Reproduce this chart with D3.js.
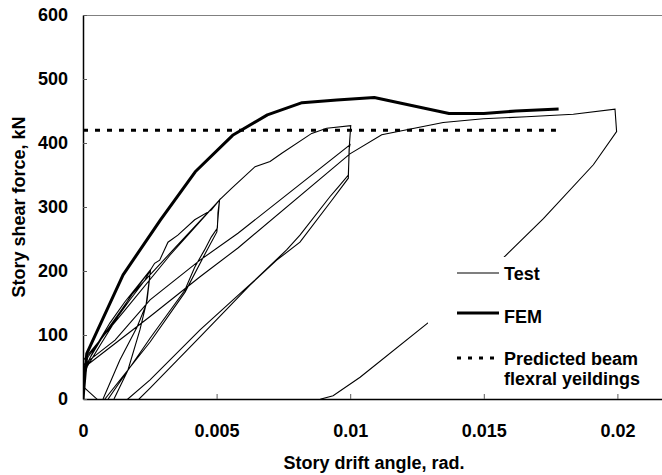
<!DOCTYPE html>
<html lang="en">
<meta charset="utf-8">

<head>
	<title>Story shear force vs drift angle</title>
</head>

<style type="text/css">

	body {
		margin: 0;
		background: white;
	}

	.tickLabel text, .axisTitle, .legendText {
		font-family: 'Liberation Sans', Arial, sans-serif;
		font-weight: 700;
		font-size: 18px;
		fill: black;
	}

	.testLine {
		fill: none;
		stroke: black;
		stroke-width: 1.1;
	}

	.femLine {
		fill: none;
		stroke: black;
		stroke-width: 3;
		stroke-linejoin: round;
	}

	.predLine {
		fill: none;
		stroke: black;
		stroke-width: 3;
		stroke-dasharray: 5,7;
	}

	.topBorder {
		stroke: rgb(128,128,128);
		stroke-width: 1;
	}

</style>

<script src="https://d3js.org/d3.v7.min.js"></script>

<body>
	<script type="text/javascript">

		// test hysteresis (drift angle in rad, shear in kN)
		var testDrift = [-0.00015, 0.00052, 0.00067, 0, 0,
			0.00002, 0.00007, 0.00045, 0.00101, 0.00157, 0.00213, 0.00253,
			0.00240, 0.00213, 0.00168, 0.00116, 0.00064, -0.0025, -0.0012, 0,
			0.00026, 0.00082, 0.00138, 0.00195, 0.00253,
			0.00236, 0.00202, 0.00138, 0.00075, -0.0026, -0.0012, 0,
			0.00019, 0.00101, 0.00176, 0.00232, 0.00253, 0.00268, 0.00287, 0.00318, 0.00355, 0.00418, 0.00480, 0.00511,
			0.00505, 0.00503, 0.00480, 0.00455, 0.00418, 0.00381, 0.00251, 0.00094, -0.005, -0.002, 0,
			0.00064, 0.0018, 0.00344, 0.00511,
			0.00501, 0.00457, 0.00382, 0.00251, 0.00082, -0.0052, -0.0022, 0,
			0.00157, 0.00326, 0.00511, 0.00556, 0.00644, 0.00700, 0.00744, 0.00856, 0.00912, 0.01002,
			0.00997, 0.00993, 0.00955, 0.00924, 0.00812, 0.00762, 0.00644, 0.00438, 0.00251, 0.00168, -0.01, -0.004, 0,
			0.0012, 0.00251, 0.00438, 0.00580, 0.00999,
			0.00996, 0.00993, 0.00932, 0.00812, 0.00725, 0.00625, 0.00438, 0.00251, 0.00210, -0.0102, -0.004, 0,
			0.00251, 0.00438, 0.00580, 0.00999, 0.01118, 0.01348, 0.01498, 0.01660, 0.01835, 0.01991,
			0.01997, 0.01910, 0.01723, 0.01572, 0.01291, 0.01037, 0.00936, 0.00891, 0.0081];
		var testShear = [25, 0, -9, -9, 0,
			22, 48, 80, 119, 152, 181, 202,
			155, 108, 45, 0, -41, -200, -50, 30,
			64, 103, 136, 170, 202,
			147, 112, 61, 0, -210, -60, 45,
			66, 112, 155, 186, 202, 212, 217, 245, 256, 280, 295, 311,
			291, 267, 253, 233, 206, 170, 95, 0, -300, -80, 40,
			84, 162, 236, 311,
			261, 227, 167, 89, 0, -310, -90, 60,
			139, 225, 311, 329, 363, 371, 384, 415, 423, 427,
			397, 350, 331, 316, 256, 233, 186, 108, 30, 0, -420, -150, 53,
			92, 155, 217, 259, 397,
			391, 345, 311, 245, 217, 178, 97, 17, 0, -430, -160, 48,
			129, 191, 236, 383, 413, 432, 438, 441, 445, 453,
			418, 366, 282, 220, 119, 34, 5, 0, -17];

		// FEM analysis
		var femDrift = [0, 0.00014, 0.0015, 0.0029, 0.0042, 0.0056, 0.0069, 0.0082, 0.0095, 0.0109, 0.0137, 0.0150, 0.0162, 0.0178];
		var femShear = [0, 71, 194, 280, 355, 412, 444, 463, 467, 471, 446, 446, 450, 453];

		// predicted beam flexural yielding
		var predDrift = [0, 0.0177];
		var predShear = [420, 420];

		var xTicks = [0, 0.005, 0.01, 0.015, 0.02],
			xTickLabels = ["0", "0.005", "0.01", "0.015", "0.02"],
			yTicks = [0, 100, 200, 300, 400, 500, 600];

		var legendNames = ["Test", "FEM", "Predicted beam"];

		var canvasWidth = 662,
			canvasHeight = 475,
			plotLeft = 83,
			plotTop = 15,
			plotBottom = 399,
			plotRight = 751;

		var svg = d3.select("body")
					.append("svg")
					.attr("width", canvasWidth)
					.attr("height", canvasHeight);

		var x = d3.scaleLinear().domain([0, 0.025]).range([plotLeft, plotRight]);
		var y = d3.scaleLinear().domain([0, 600]).range([plotBottom, plotTop]);

		svg.append("clipPath")
		   .attr("id", "plotClip")
		   .append("rect")
		   .attr("x", plotLeft)
		   .attr("y", plotTop)
		   .attr("width", plotRight - plotLeft)
		   .attr("height", plotBottom - plotTop);

		// top frame line
		svg.append("line")
		   .attr("class", "topBorder")
		   .attr("x1", plotLeft)
		   .attr("x2", plotRight)
		   .attr("y1", plotTop + 0.5)
		   .attr("y2", plotTop + 0.5);

		var line = d3.line()
					 .x(function(d) { return x(d[0]); })
					 .y(function(d) { return y(d[1]); });

		var plot = svg.append("g").attr("clip-path", "url(#plotClip)");

		plot.append("path")
			.datum(d3.zip(testDrift, testShear))
			.attr("class", "testLine")
			.attr("d", line);

		plot.append("path")
			.datum(d3.zip(femDrift, femShear))
			.attr("class", "femLine")
			.attr("d", line);

		plot.append("path")
			.datum(d3.zip(predDrift, predShear))
			.attr("class", "predLine")
			.attr("d", line);

		// legend sits on a white box that hides the test curve behind it
		var lx = 457, ly = 273;
		svg.append("rect")
		   .attr("x", 428)
		   .attr("y", 257)
		   .attr("width", 240)
		   .attr("height", 139)
		   .attr("fill", "white");

		svg.append("line").attr("class", "testLine")
		   .attr("x1", lx).attr("x2", lx + 42).attr("y1", ly).attr("y2", ly);
		svg.append("line").attr("class", "femLine")
		   .attr("x1", lx).attr("x2", lx + 42).attr("y1", ly + 40).attr("y2", ly + 40);
		svg.append("line").attr("class", "predLine")
		   .style("stroke-dasharray", "4,7")
		   .attr("x1", lx).attr("x2", lx + 44).attr("y1", ly + 85).attr("y2", ly + 85);

		svg.append("text").attr("class", "legendText")
		   .attr("x", lx + 47).attr("y", ly + 7).text(legendNames[0]);
		svg.append("text").attr("class", "legendText")
		   .attr("x", lx + 47).attr("y", ly + 50).text(legendNames[1]);
		svg.append("text").attr("class", "legendText")
		   .attr("x", lx + 47).attr("y", ly + 92).text(legendNames[2]);
		svg.append("text").attr("class", "legendText")
		   .attr("x", lx + 47).attr("y", ly + 112).text("flexral yeildings");

		// axes
		var xAxis = d3.axisBottom(x)
					  .tickValues(xTicks)
					  .tickFormat(function(d, i) { return xTickLabels[i]; })
					  .tickSizeInner(-5)
					  .tickSizeOuter(0)
					  .tickPadding(25);

		var yAxis = d3.axisLeft(y)
					  .tickValues(yTicks)
					  .tickSizeInner(-4)
					  .tickSizeOuter(0)
					  .tickPadding(15);

		var gx = svg.append("g")
					.attr("class", "tickLabel")
					.attr("transform", "translate(0," + plotBottom + ")")
					.call(xAxis);

		var gy = svg.append("g")
					.attr("class", "tickLabel")
					.attr("transform", "translate(" + plotLeft + ",0)")
					.call(yAxis);

		gx.select(".domain").attr("stroke-width", 1.5);
		gy.select(".domain").attr("stroke-width", 1.5);
		gx.selectAll(".tick line").attr("stroke", "rgb(90,90,90)");
		gy.selectAll(".tick line").attr("stroke", "rgb(90,90,90)");
		svg.selectAll(".tickLabel").attr("font-family", null).attr("font-size", null);

		svg.append("text")
		   .attr("class", "axisTitle")
		   .attr("text-anchor", "middle")
		   .attr("x", 374)
		   .attr("y", 469)
		   .text("Story drift angle, rad.");

		svg.append("text")
		   .attr("class", "axisTitle")
		   .attr("text-anchor", "middle")
		   .attr("transform", "translate(25,207)rotate(-90)")
		   .text("Story shear force, kN");

	</script>
</body>

</html>
